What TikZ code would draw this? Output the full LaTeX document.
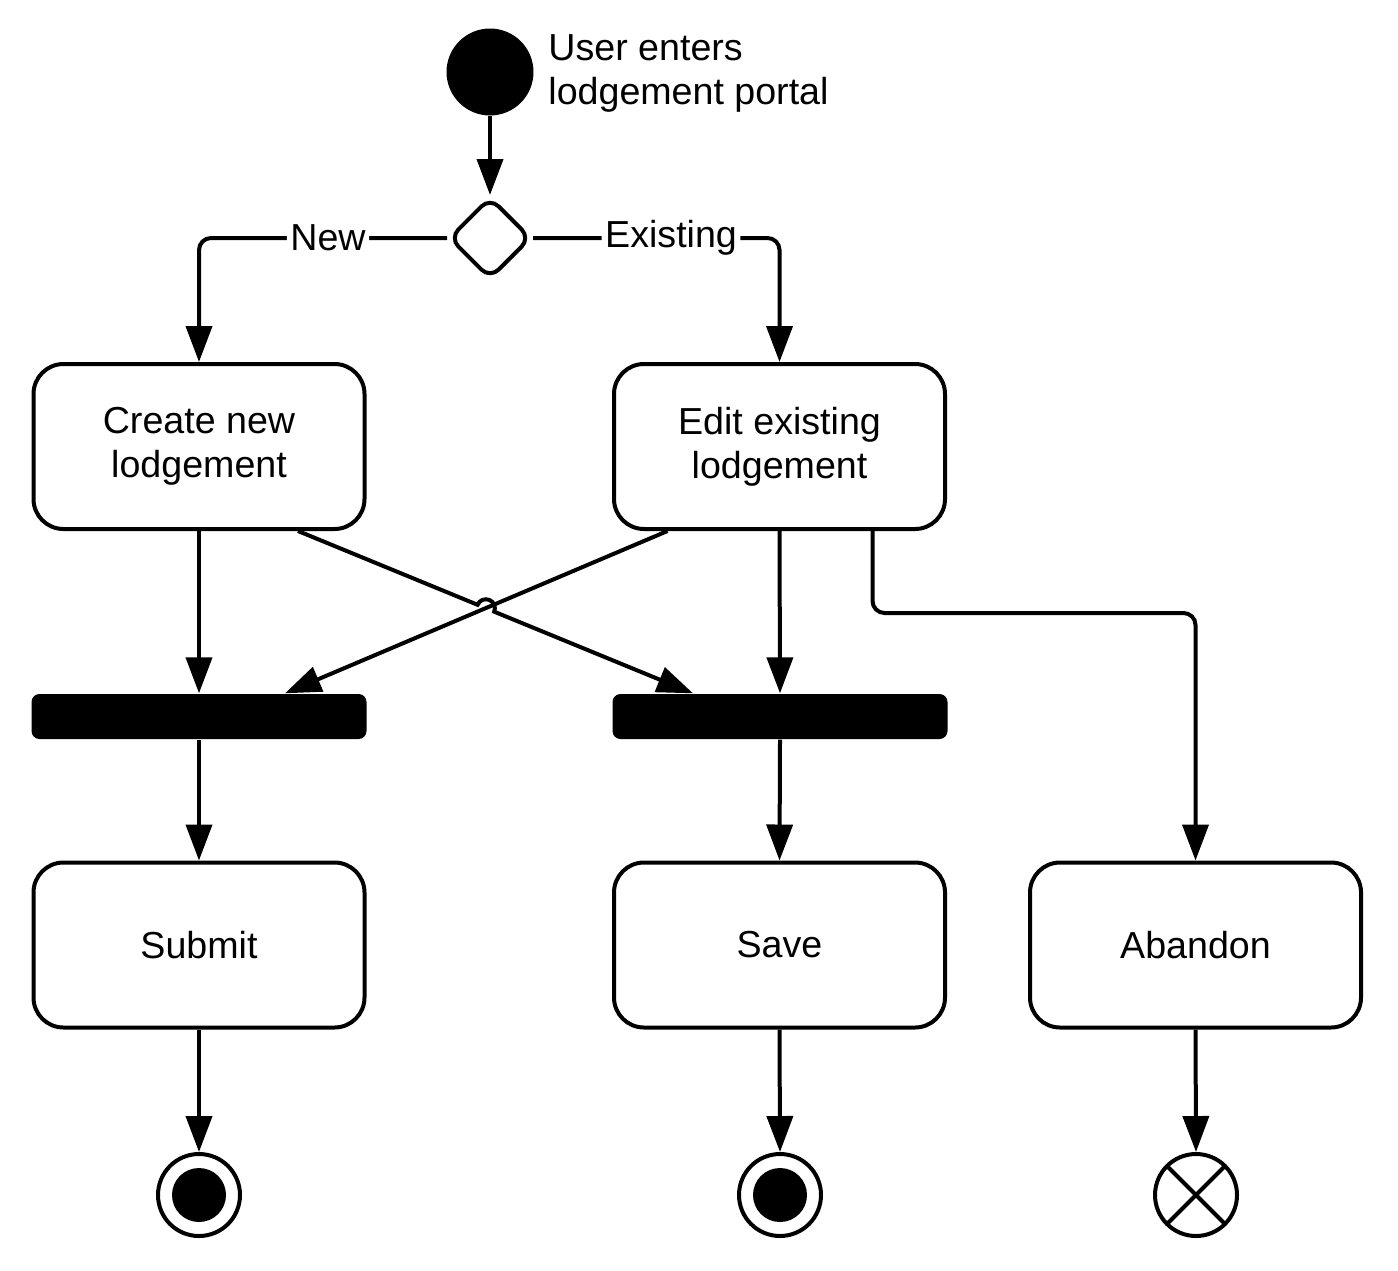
\documentclass[tikz,border=0pt]{standalone}
\usepackage{fontspec}
\setmainfont{Liberation Sans}
\usetikzlibrary{shapes.geometric,arrows.meta,calc}
\tikzset{
  state/.style={draw,line width=0.04cm,rounded corners=3mm,minimum width=3.31cm,minimum height=1.65cm,align=center},
  bar/.style={fill=black,rounded corners=0.8mm,minimum width=3.35cm,minimum height=0.45cm,inner sep=0pt},
  decision/.style={draw,diamond,line width=0.04cm,rounded corners=1.2mm,minimum width=0.82cm,minimum height=0.82cm,inner sep=0pt},
  initial/.style={circle,fill=black,minimum size=0.87cm,inner sep=0pt},
  final/.style={circle,draw,line width=0.04cm,minimum size=0.82cm,inner sep=0pt,
    path picture={\fill (path picture bounding box.center) circle (0.27cm);}},
  flowend/.style={circle,draw,line width=0.04cm,minimum size=0.82cm,inner sep=0pt,
    path picture={\draw[line width=0.04cm] ($(path picture bounding box.center)+(45:0.5)$)--($(path picture bounding box.center)+(225:0.5)$);
                  \draw[line width=0.04cm] ($(path picture bounding box.center)+(135:0.5)$)--($(path picture bounding box.center)+(-45:0.5)$);}},
  flow/.style={line width=0.04cm,-{Triangle[length=3.6mm,width=2.6mm]}},
  guard/.style={fill=white,inner sep=1pt}
}
\begin{document}
\begin{tikzpicture}[font=\fontsize{10.7pt}{12.5pt}\selectfont]
  \useasboundingbox (0,0) rectangle (13.98,-12.70);
  \node[initial] (start) at (4.90,-0.72) {};
  \node[anchor=west,align=left] (starttext) at (5.36,-0.73) {User enters\\lodgement portal};
  \node[decision] (choice) at (4.90,-2.38) {};
  \node[state] (create) at (1.99,-4.465) {Create new\\lodgement};
  \node[state] (edit) at (7.795,-4.465) {Edit existing\\lodgement};
  \node[bar] (join1) at (1.99,-7.165) {};
  \node[bar] (join2) at (7.80,-7.165) {};
  \node[state] (submit) at (1.99,-9.45) {Submit};
  \node[state] (save) at (7.795,-9.45) {Save};
  \node[state] (abandon) at (11.955,-9.45) {Abandon};
  \node[final] (endsubmit) at (1.99,-11.95) {};
  \node[final] (endsave) at (7.80,-11.95) {};
  \node[flowend] (endabandon) at (11.96,-11.95) {};
  \coordinate (crossfrom) at ([xshift=9.9mm]create.south);
  \coordinate (crossto) at ([xshift=-8.7mm]join2.north);
  \draw[flow] (start) -- (choice);
  \draw[flow,rounded corners=1.2mm] (choice.west) -| (create.north) node[pos=0.24,guard] {New};
  \draw[flow,rounded corners=1.2mm] (choice.east) -| (edit.north) node[pos=0.28,guard] {Existing};
  \draw[flow] (create.south) -- (join1.north);
  \draw[flow] ([xshift=-11.2mm]edit.south) -- ([xshift=8.6mm]join1.north);
  \draw[flow] (crossfrom) -- ($(crossfrom)!0.4546!(crossto)$) arc[start angle=157.5,end angle=-22.5,radius=0.9mm] -- (crossto);
  \draw[flow] (edit.south) -- (join2.north);
  \draw[flow,rounded corners=1.2mm] ([xshift=9.3mm]edit.south) -- ++(0,-0.82) -| (abandon.north);
  \draw[flow] (join1.south) -- (submit.north);
  \draw[flow] (join2.south) -- (save.north);
  \draw[flow] (submit.south) -- (endsubmit.north);
  \draw[flow] (save.south) -- (endsave.north);
  \draw[flow] (abandon.south) -- (endabandon.north);
\end{tikzpicture}
\end{document}
